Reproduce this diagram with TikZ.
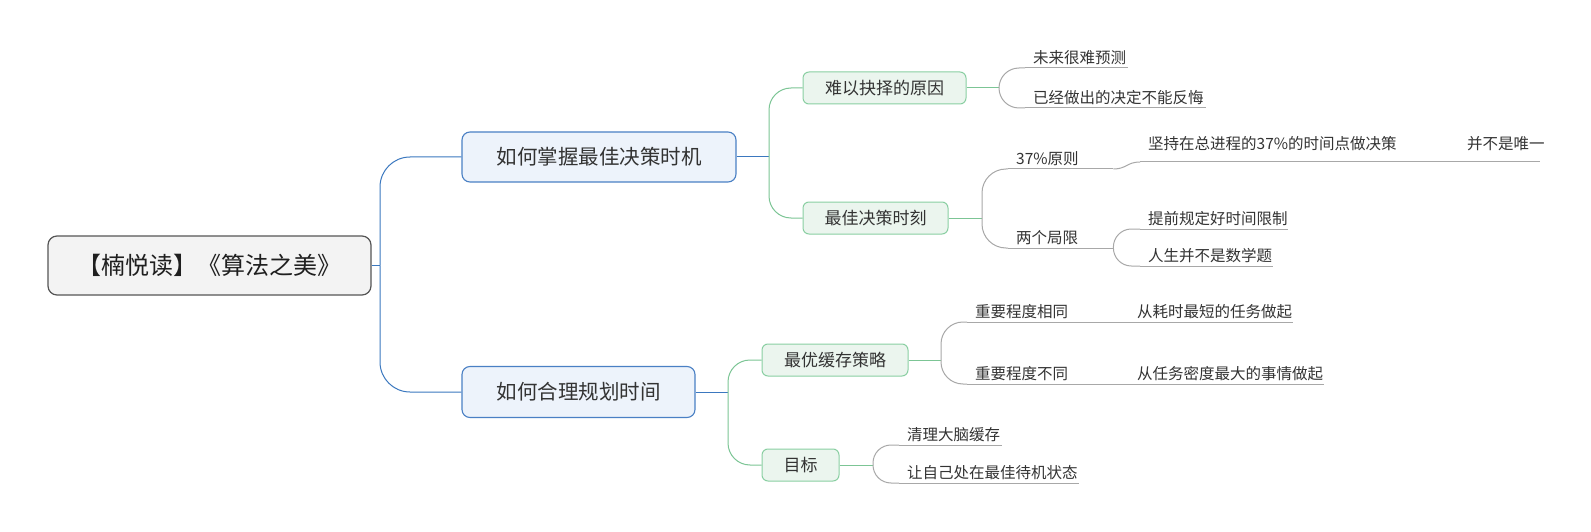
\documentclass[tikz,border=0pt]{standalone}
\usepackage{fontspec}
\setmainfont{Noto Sans CJK SC}
\usetikzlibrary{calc}
\definecolor{bluecon}{HTML}{3B78BF}
\definecolor{bluefill}{HTML}{EDF3FB}
\definecolor{blueborder}{HTML}{4A80C4}
\definecolor{greencon}{HTML}{7CC595}
\definecolor{greenfill}{HTML}{EBF5EE}
\definecolor{greenborder}{HTML}{8ACFA2}
\definecolor{graycon}{HTML}{A8A8A8}
\definecolor{rootfill}{HTML}{F3F3F3}
\definecolor{rootborder}{HTML}{555555}
\definecolor{txt}{HTML}{333333}
\newcommand\leaftxt[2]{\hbox to #1{\hskip 8pt\relax #2\hfil}}
\tikzset{
  rootbox/.style={draw=rootborder, fill=rootfill, line width=1.2pt, rounded corners=9pt,
    minimum width=323pt, minimum height=59pt, inner sep=0pt,
    font=\fontsize{24}{28}\selectfont, text=black!88},
  mainbox/.style={draw=blueborder, fill=bluefill, line width=1.1pt, rounded corners=8pt,
    minimum height=50pt, inner sep=0pt, font=\fontsize{20.5}{24}\selectfont, text=txt},
  subbox/.style={draw=greenborder, fill=greenfill, line width=1pt, rounded corners=6pt,
    minimum height=32pt, inner sep=0pt, font=\fontsize{17}{20}\selectfont, text=txt},
  leaf/.style={anchor=south west, inner xsep=0pt, inner ysep=4pt, text depth=0pt,
    font=\fontsize{15.5}{18}\selectfont, text=txt},
  bcon/.style={draw=bluecon, line width=1pt},
  gcon/.style={draw=greencon, line width=1pt},
  lcon/.style={draw=graycon, line width=1pt},
}
\begin{document}
\begin{tikzpicture}[x=1pt,y=-1pt]
\useasboundingbox[fill=white] (0,0) rectangle (1591,532);

% main nodes
\node[rootbox] (root) at (209.5,265.5) {【楠悦读】《算法之美》};
\node[mainbox, minimum width=274pt] (A) at (599,157) {如何掌握最佳决策时机};
\node[mainbox, minimum width=233pt, minimum height=51pt] (B) at (578.5,392) {如何合理规划时间};
\node[subbox, minimum width=163pt] (c1) at (884.5,88) {难以抉择的原因};
\node[subbox, minimum width=145pt] (c2) at (875.5,218) {最佳决策时刻};
\node[subbox, minimum width=146pt] (c3) at (835,360) {最优缓存策略};
\node[subbox, minimum width=77pt] (c4) at (800.5,465) {目标};

% junctions
\coordinate (j1) at (380,265.5);
\coordinate (j2) at (769,157);
\coordinate (j3) at (728,392);
\coordinate (j4) at (999,88);
\coordinate (j5) at (982,218);
\coordinate (j6) at (941,360);
\coordinate (j7) at (873,465);

% leaves
\node[leaf] (La) at (1025,68)  {\leaftxt{103pt}{未来很难预测}};
\node[leaf] (Lb) at (1025,108) {\leaftxt{181pt}{已经做出的决定不能反悔}};
\node[leaf] (Lc) at (1008,169) {\leaftxt{105pt}{37\%原则}};
\node[leaf] (Ld) at (1008,248) {\leaftxt{105pt}{两个局限}};
\node[leaf, inner ysep=12pt] (Le) at (1140,162) {\leaftxt{265pt}{坚持在总进程的37\%的时间点做决策}};
\node[leaf, inner ysep=12pt] (Lf) at (1459,162) {\leaftxt{81pt}{并不是唯一}};
\node[leaf] (Lg) at (1140,229) {\leaftxt{148pt}{提前规定好时间限制}};
\node[leaf] (Lh) at (1140,266) {\leaftxt{133pt}{人生并不是数学题}};
\node[leaf] (Li) at (967,322)  {\leaftxt{113pt}{重要程度相同}};
\node[leaf] (Lj) at (967,384)  {\leaftxt{113pt}{重要程度不同}};
\node[leaf] (Lk) at (1129,322) {\leaftxt{164pt}{从耗时最短的任务做起}};
\node[leaf] (Ll) at (1129,384) {\leaftxt{195pt}{从任务密度最大的事情做起}};
\node[leaf] (Lm) at (899,445)  {\leaftxt{103pt}{清理大脑缓存}};
\node[leaf] (Ln) at (899,483)  {\leaftxt{180pt}{让自己处在最佳待机状态}};

% underlines
\foreach \n in {La,Lb,Lc,Ld,Le,Lf,Lg,Lh,Li,Lj,Lk,Ll,Lm,Ln}
  \draw[lcon] (\n.south west) -- (\n.south east);

% blue connectors
\draw[bcon] (root.east) -- (j1);
\draw[bcon, rounded corners=30pt] (j1) |- (A.west);
\draw[bcon, rounded corners=30pt] (j1) |- (B.west);
\draw[bcon] (A.east) -- (j2);
\draw[bcon] (B.east) -- (j3);

% green connectors
\draw[gcon, rounded corners=22pt] (j2) |- (c1.west);
\draw[gcon, rounded corners=22pt] (j2) |- (c2.west);
\draw[gcon, rounded corners=22pt] (j3) |- (c3.west);
\draw[gcon, rounded corners=22pt] (j3) |- (c4.west);
\draw[gcon] (c1.east) -- (j4);
\draw[gcon] (c2.east) -- (j5);
\draw[gcon] (c3.east) -- (j6);
\draw[gcon] (c4.east) -- (j7);

% gray connectors
\draw[lcon, rounded corners=20pt] (j4) |- (La.south west);
\draw[lcon, rounded corners=20pt] (j4) |- (Lb.south west);
\draw[lcon, rounded corners=24pt] (j5) |- (Lc.south west);
\draw[lcon, rounded corners=24pt] (j5) |- (Ld.south west);
\draw[lcon] (Lc.south east) .. controls ($(Lc.south east)+(13,0)$) and ($(Le.south west)+(-13,0)$) .. (Le.south west);
\draw[lcon] (Le.south east) -- (Lf.south west);
\draw[lcon, rounded corners=18pt] (Ld.south east) |- (Lg.south west);
\draw[lcon, rounded corners=18pt] (Ld.south east) |- (Lh.south west);
\draw[lcon, rounded corners=22pt] (j6) |- (Li.south west);
\draw[lcon, rounded corners=22pt] (j6) |- (Lj.south west);
\draw[lcon] (Li.south east) -- (Lk.south west);
\draw[lcon] (Lj.south east) -- (Ll.south west);
\draw[lcon, rounded corners=18pt] (j7) |- (Lm.south west);
\draw[lcon, rounded corners=18pt] (j7) |- (Ln.south west);
\end{tikzpicture}
\end{document}
